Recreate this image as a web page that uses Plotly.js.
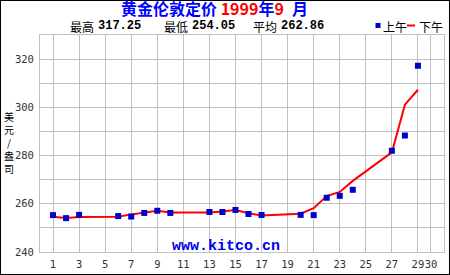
<!DOCTYPE html>
<html>
<head>
<meta charset="utf-8">
<script src="https://cdn.plot.ly/plotly-3.0.1.min.js"></script>
<style>
html,body{margin:0;padding:0;background:#fff;}
#chart{width:450px;height:275px;box-sizing:border-box;border:1px solid #000;}
</style>
</head>
<body>
<div id="chart"></div>
<script>
// ---- data ----
const days = [1,2,3,6,7,8,9,10,13,14,15,16,17,20,21,22,23,24,27,28,29];
const amPrice = [255.3,254.05,255.4,254.9,254.7,256.2,257.1,256.2,256.6,256.6,257.45,255.75,255.35,255.4,255.3,262.5,263.3,265.8,282.0,288.3,317.25];
const pmPrice = [254.6,254.1,254.5,254.6,255.6,256.5,257.1,256.4,256.4,256.8,257.4,256.1,255.1,255.9,258.2,263.2,264.9,269.5,281.3,301.1,307.3];
const xTickVals = [1,3,5,7,9,11,13,15,17,19,21,23,25,27,29,30];
const xTickText = ['1','3','5','7','9','11','13','15','17','19','21','23','25','27','29','30'];
const yTickVals = [240,250,260,270,280,290,300,310,320,330];
const yTickText = ['240','','260','','280','','300','','320',''];
const statLabels = ['最高','最低','平均'];
const statValues = ['317.25','254.05','262.86'];
const seriesNames = ['上午','下午'];
const yTitleChars = ['美','元','/','盎','司'];

// ---- geometry helpers (pixel -> paper) ----
const W = 450, H = 275, ML = 40, MR = 6, MT = 35, MB = 23;
const PW = W - ML - MR, PH = H - MT - MB;
const px = x => (x - ML) / PW;
const py = y => (H - MB - y) / PH;

const cjk = '"Noto Sans CJK SC", "Noto Sans", sans-serif';
const mono = '"Liberation Mono", "DejaVu Sans Mono", monospace';

const traces = [
  {x: days, y: pmPrice, type: 'scatter', mode: 'lines', name: seriesNames[1],
   line: {color: '#ff0000', width: 2}, hoverinfo: 'skip'},
  {x: days, y: amPrice, type: 'scatter', mode: 'markers', name: seriesNames[0],
   marker: {symbol: 'square', size: 6, color: '#0000cc'}, hoverinfo: 'skip'}
];

const annotations = [
  {xref: 'paper', yref: 'paper', x: px(214), y: py(8.5), xanchor: 'center', yanchor: 'middle', showarrow: false,
   borderpad: 0,
   text: '<b>黄金伦敦定价 <span style="color:#ff0000">1999</span>年<span style="color:#ff0000">9</span>\u2002月</b>',
   font: {family: cjk, size: 16, color: '#0000ff'}},
  {xref: 'paper', yref: 'paper', x: px(225.5), y: py(246.5), xanchor: 'center', yanchor: 'middle', showarrow: false,
   text: '<b>www.kitco.cn</b>', font: {family: mono, size: 15, color: '#0000ee'}},
  {xref: 'paper', yref: 'paper', x: px(9), y: py(142), xanchor: 'center', yanchor: 'middle', showarrow: false,
   text: yTitleChars.join('<br>'), font: {family: cjk, size: 10, color: '#000'}}
];
const statLabelX = [68, 162, 251];
const statValueX = [96, 190, 279];
statLabels.forEach((s, i) => {
  annotations.push({xref: 'paper', yref: 'paper', x: px(statLabelX[i]), y: py(26), xanchor: 'left', yanchor: 'middle',
    showarrow: false, text: s, font: {family: cjk, size: 12, color: '#000'}});
  annotations.push({xref: 'paper', yref: 'paper', x: px(statValueX[i]), y: py(26), xanchor: 'left', yanchor: 'middle',
    showarrow: false, text: '<b>' + statValues[i] + '</b>', font: {family: mono, size: 12, color: '#000'}});
});
const legendX = [381, 417];
seriesNames.forEach((s, i) => annotations.push({
  xref: 'paper', yref: 'paper', x: px(legendX[i]), y: py(26), xanchor: 'left', yanchor: 'middle', showarrow: false,
  text: s, font: {family: cjk, size: 12, color: '#000'}
}));

const shapes = [
  {type: 'rect', xref: 'paper', yref: 'paper', x0: px(375.5), x1: px(380.5), y0: py(23), y1: py(28),
   fillcolor: '#0000cc', line: {width: 0}},
  {type: 'rect', xref: 'paper', yref: 'paper', x0: px(407), x1: px(415), y0: py(24.5), y1: py(26.5),
   fillcolor: '#ff0000', line: {width: 0}}
];

const layout = {
  width: W - 2, height: H - 2,
  margin: {l: ML - 1, r: MR - 1, t: MT - 1, b: MB - 1, pad: 0},
  paper_bgcolor: '#ffffff', plot_bgcolor: '#ffffff',
  showlegend: false,
  xaxis: {range: [0, 31], tickmode: 'array', tickvals: xTickVals, ticktext: xTickText, tickangle: 0,
    showgrid: true, gridcolor: '#c0c0c0', gridwidth: 1, zeroline: false,
    showline: true, mirror: true, linecolor: '#c0c0c0', linewidth: 1,
    ticks: 'outside', ticklen: 2, tickcolor: 'rgba(0,0,0,0)',
    tickfont: {family: '"DejaVu Sans Mono", monospace', size: 10.5, color: '#333'}},
  yaxis: {range: [240, 330], tickmode: 'array', tickvals: yTickVals, ticktext: yTickText,
    showgrid: true, gridcolor: '#c0c0c0', gridwidth: 1, zeroline: false,
    showline: true, mirror: true, linecolor: '#c0c0c0', linewidth: 1,
    ticks: 'outside', ticklen: 3, tickcolor: 'rgba(0,0,0,0)',
    tickfont: {family: '"DejaVu Sans Mono", monospace', size: 10.5, color: '#333'}},
  annotations: annotations,
  shapes: shapes
};

Plotly.newPlot('chart', traces, layout, {staticPlot: true, displayModeBar: false});
</script>
</body>
</html>
